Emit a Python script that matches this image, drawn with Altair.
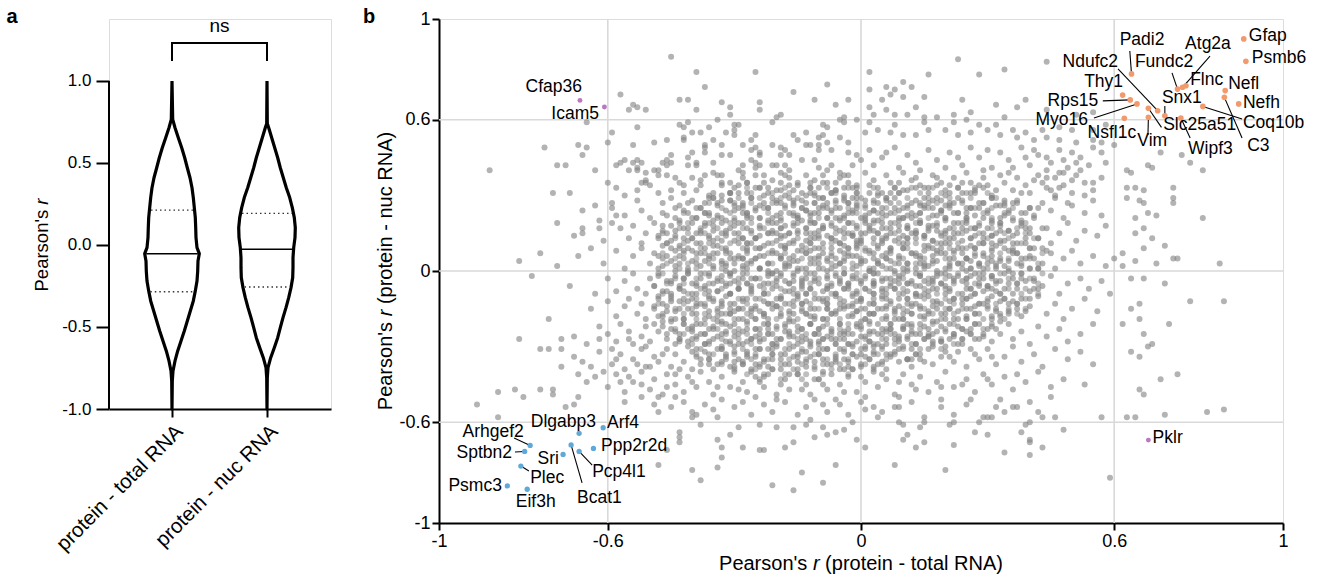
import altair as alt
import pandas as pd

FONT = "Liberation Sans"
MINUS_G = "replace(format(datum.value, '~g'), '\u2212', '-')"
MINUS_1F = "replace(format(datum.value, '.1f'), '\u2212', '-')"

# ======================= panel a : violin outlines =======================
cat_labels = ["protein - total RNA", "protein - nuc RNA"]
cat_pos = [63, 158]

tot_r = [1.0, 0.766, 0.715, 0.654, 0.593, 0.532, 0.471, 0.410, 0.349, 0.289,
         0.228, 0.167, 0.106, 0.045, -0.016, -0.053, -0.098, -0.159, -0.220, -0.280,
         -0.341, -0.402, -0.463, -0.524, -0.585, -0.646, -0.707, -0.768, -0.829, -1.0]
tot_hw = [0, 0.7, 3.0, 6.3, 9.7, 12.7, 15.3, 18.0, 20.0, 21.3,
          22.3, 23.3, 23.7, 24.0, 25.0, 27.3, 26.0, 25.7, 25.0, 23.3,
          21.3, 18.3, 15.3, 12.3, 9.0, 5.7, 3.0, 1.0, 0.3, 0]
nuc_r = [1.0, 0.74, 0.715, 0.654, 0.593, 0.532, 0.471, 0.410, 0.349, 0.289,
         0.228, 0.167, 0.106, 0.045, -0.016, -0.077, -0.138, -0.199, -0.260, -0.321,
         -0.382, -0.443, -0.504, -0.565, -0.626, -0.687, -0.748, -0.809, -1.0]
nuc_hw = [0, 0.3, 1.7, 4.7, 7.7, 10.7, 13.3, 16.3, 19.3, 22.7,
          25.3, 27.3, 28.3, 28.0, 26.7, 26.0, 26.0, 25.7, 24.0, 21.7,
          19.0, 16.0, 13.3, 10.7, 7.3, 3.7, 1.0, 0.3, 0]

# quartiles: upper quartile, median, lower quartile
tot_q = [0.213, -0.053, -0.285]
tot_q_hw = [22.5, 27.3, 23.2]
nuc_q = [0.193, -0.026, -0.256]
nuc_q_hw = [26.5, 26.5, 24.0]

# ======================= panel b : scatter =======================
gray_above_06 = ("-45,85 23,84 44,83 -39,79 -25,79 -37,73 -8,74 -16,71 -57,70 2,79 16,78 28,78 34,80 10,75 "
    "12,73 6,73 2,72 8,72 -43,68 -41,68 -11,68 -3,68 -6,66 -24,67 -33,67 -31,65 -39,64 -24,64 -54,66 "
    "-55,64 -53,65 -51,64 -31,62 -19,62 -20,61 -5,60 -4,61 -1,60 -34,60 5,68 7,70 10,69 15,69 24,68 39,68 "
    "32,66 6,64 13,65 2,65 3,62 8,62 11,62 15,61 18,61 22,62 26,63 34,61 37,65 44,64 51,62 55,63")
gray_05 = ("-65,59 -43,58 -42,57 -41,59 -30,58 -29,58 -30,56 -21,59 -9,58 -8,57 -4,59 -53,57 -36,57 -38,55 "
    "-59,55 -40,55 -42,53 -42,52 -32,55 -30,54 -25,54 -26,52 -16,54 -13,55 -10,53 -9,54 -8,51 -5,53 -3,51 "
    "-60,51 -54,50 -49,51 -46,52 1,55 4,56 7,55 10,54 13,54 16,56 20,56 23,54 26,55 30,56 33,54 37,53 41,52 "
    "44,53 47,52 51,51 55,52 57,51 60,50 2,59 8,58 15,59 22,59 25,60 28,58 32,58 36,56 39,55 43,56 47,57 "
    "50,56 55,56 58,58")
gray_04 = ("-37,49 -37,50 -37,47 -35,52 -33,50 -28,50 -26,48 -25,49 -24,47 -24,46 -21,50 -19,49 -18,48 -19,46 "
    "-17,46 -15,52 -13,50 -12,50 -10,50 -10,48 -7,48 -3,47 -1,46 -45,46 -46,44 -41,45 -40,47 -39,43 -33,46 "
    "-31,46 -88,40 -72,42 -70,42 -63,40 -58,42 -57,43 -56,44 -54,43 -53,44 -52,43 -53,41 -55,40 -53,40 -51,39 "
    "-49,40 -48,40 -48,38 -47,43 -46,42 -45,43 -41,42 -39,42 -35,43 -35,39 -34,38 -33,38 -28,42 -28,39 -29,40 "
    "-26,44 -25,43 -24,42 -25,41 -21,42 -20,42 -18,42 -19,39 -17,40 -18,38 -14,44 -11,44 -10,41 -8,40 -7,42 "
    "-5,39 -4,38 -2,42 0,44 -75,49 -67,50 -65,49 -66,46 "
    "2,48 5,45 8,49 11,46 13,43 16,48 18,44 21,47 24,42 26,49 28,45 31,41 33,47 35,44 38,49 40,42 42,46 45,43 "
    "47,48 49,41 52,45 54,42 57,47 58,43 3,42 9,41 14,40 20,41 29,40 36,41 44,40 6,47 23,45 30,48 39,45 48,44 "
    "55,49 50,47 63,40 64,39 68,42 69,41 71,47 76,46 78,43 81,40")
gray_03 = ("-73,31 -69,31 -56,30 -53,32 -51,36 -51,35 -50,34 -52,35 -45,32 -42,31 -42,34 -40,37 -38,34 -38,36 "
    "-39,32 -36,30 -35,31 -33,30 -31,31 -30,33 -29,34 -27,35 -27,31 -24,33 -23,35 -22,31 -20,32 -19,35 -17,34 "
    "-16,32 -15,35 -14,31 -12,33 -12,35 -10,33 -8,35 -6,35 -5,37 -3,35 -1,34 -1,31 -7,31 -6,32 -4,30 -2,33 "
    "-13,30 -18,30 -25,38 -23,38 -21,36 -17,37 -13,38 -9,38 -3,38 -31,35 -33,35 -37,38 -44,37 -46,38 -60,35 "
    "-58,33 -48,31 -43,35 -28,37 -11,36 "
    "1,39 3,36 4,33 6,38 7,31 9,35 10,39 11,32 13,37 14,34 16,31 17,38 19,35 20,32 22,37 23,33 25,39 26,35 "
    "27,31 29,37 30,34 31,30 33,38 34,35 36,32 37,37 39,34 40,31 42,38 43,35 45,32 46,37 48,34 50,31 51,38 "
    "53,35 55,32 57,37 2,31 8,33 12,36 15,33 18,37 21,34 24,31 28,34 32,32 35,39 38,31 41,36 44,33 47,39")
gray_right = ("63,33 65,33 67,32 74,33 63,29 66,28 67,27 74,29 74,27 68,23 65,21 70,22 81,21 65,15 67,17 69,13 "
    "67,9 72,10 74,5 75,5 85,3 65,4 70,3 62,7 62,2")
gray_02 = ("-66,24 -63,26 -62,20 -59,27 -59,25 -58,22 -56,22 -53,28 -52,24 -50,21 -47,27 -47,23 -45,29 -44,21 "
    "-43,26 -41,23 -40,28 -39,21 -38,25 -36,29 -36,22 -34,26 -33,21 -32,24 -31,28 -30,20 -29,25 -28,27 -27,22 "
    "-26,29 -25,24 -24,21 -23,27 -22,25 -21,29 -20,22 -19,20 -18,26 -17,23 -16,28 -15,21 -14,25 -13,27 -12,20 "
    "-11,23 -10,29 -9,26 -8,21 -7,24 -6,28 -5,20 -5,25 -4,22 -3,27 -2,24 -1,29 0,21 1,26 2,23 3,28 4,20 5,25 "
    "6,22 7,27 8,29 9,24 10,21 11,26 12,23 13,28 14,20 15,25 16,27 17,22 18,29 19,24 20,21 21,26 22,23 24,28 "
    "25,20 26,25 27,22 29,27 30,24 31,29 33,21 34,26 35,23 37,28 38,20 40,25 41,22 43,27 45,24 46,29 48,21 "
    "50,26 53,23 55,28 57,22 -44,25 -41,27 -37,23 -35,20 -33,28 -30,26 -27,21 -24,26 -22,20 -19,27 -16,22 "
    "-13,24 -10,25 -8,27 -6,21 -3,23 -1,25 1,20 3,24 6,28 9,20 11,22 14,26 17,25 19,28 22,27 25,23 28,25 31,20 "
    "33,26 36,27 39,23 42,25 -28,23 -20,28 -12,22 -4,28 5,23 13,22 20,26")
gray_01 = ("-72,19 -68,14 -66,17 -66,15 -62,17 -61,12 -59,19 -57,17 -55,13 -54,18 -52,11 -51,15 -49,19 -48,13 "
    "-47,16 -46,11 -45,18 -44,14 -43,10 -42,17 -41,12 -40,19 -39,15 -38,11 -37,18 -36,13 -35,16 -34,10 -33,19 "
    "-32,14 -31,17 -30,12 -29,15 -28,19 -27,11 -26,16 -25,13 -24,18 -23,10 -22,15 -21,19 -20,12 -19,17 -18,14 "
    "-17,11 -16,18 -15,15 -14,10 -13,17 -12,13 -11,19 -10,16 -9,11 -8,14 -7,18 -6,12 -5,16 -4,10 -3,19 -2,14 "
    "-1,17 0,11 1,15 2,18 3,13 4,10 5,17 6,14 7,19 8,12 9,16 10,11 11,18 12,15 13,13 14,19 15,10 16,16 17,12 "
    "18,18 19,14 20,11 21,17 22,15 23,19 24,12 25,16 26,10 27,14 28,18 29,13 30,17 31,11 32,15 33,19 34,12 "
    "35,16 36,14 38,18 39,11 40,15 42,13 44,17 45,11 47,15 49,19 51,12 53,16 56,14 58,18 -46,15 -43,19 -40,13 "
    "-38,16 -35,12 -33,15 -30,18 -28,13 -26,11 -24,14 -21,16 -19,10 -17,15 -15,19 -13,12 -11,15 -9,18 -7,13 "
    "-5,11 -3,15 -1,12 1,19 3,16 5,12 7,15 9,18 11,13 13,16 15,14 17,18 19,11 21,13 23,15 25,19 27,17 29,11 "
    "31,14 33,16 36,11 39,17 -20,15 -10,14 0,15 10,14 20,16")
gray_00 = ("-81,4 -76,7 -72,2 -67,6 -64,9 -61,3 -58,8 -56,1 -54,6 -52,9 -50,3 -49,7 -48,1 -47,5 -45,9 -44,2 "
    "-43,6 -42,8 -41,0 -40,4 -39,7 -38,2 -37,9 -36,5 -35,1 -34,7 -33,3 -32,9 -31,5 -30,0 -29,6 -28,2 -27,8 "
    "-26,4 -25,9 -24,1 -23,6 -22,3 -21,8 -20,0 -19,5 -18,9 -17,2 -16,6 -15,4 -14,8 -13,1 -12,5 -11,9 -10,3 "
    "-9,7 -8,0 -7,6 -6,2 -5,8 -4,4 -3,9 -2,1 -1,6 0,3 1,8 2,0 3,5 4,9 5,2 6,7 7,4 8,0 9,6 10,9 11,3 12,7 13,1 "
    "14,5 15,8 16,2 17,6 18,4 19,9 20,1 21,5 22,8 23,3 24,7 25,0 26,4 27,9 28,2 29,6 30,3 31,8 32,1 33,5 34,9 "
    "35,4 37,7 38,2 40,6 41,9 43,3 45,7 46,1 48,5 50,8 52,3 55,6 58,2 60,5 -46,6 -43,3 -40,8 -37,4 -35,7 -32,2 "
    "-30,5 -27,3 -24,6 -22,0 -20,7 -17,5 -15,1 -12,8 -10,6 -8,4 -5,3 -3,6 -1,9 1,4 3,1 5,6 7,8 9,3 11,0 13,6 "
    "15,3 17,9 19,7 21,2 23,9 25,5 27,6 29,1 31,4 34,2 36,8 39,5 42,1 44,8 -28,5 -18,3 -6,5 4,4 14,3 24,3")
gray_m00 = ("-78,-2 -69,-6 -63,-9 -60,-3 -58,-8 -56,-4 -54,-1 -53,-7 -51,-9 -50,-3 -49,-6 -48,-1 -47,-8 -46,-4 "
    "-45,-9 -44,-2 -43,-6 -42,-8 -41,-1 -40,-5 -39,-9 -38,-3 -37,-7 -36,-1 -35,-5 -34,-8 -33,-2 -32,-6 -31,-9 "
    "-30,-4 -29,-7 -28,-1 -27,-5 -26,-8 -25,-3 -24,-6 -23,-9 -22,-2 -21,-7 -20,-4 -19,-1 -18,-8 -17,-5 -16,-2 "
    "-15,-9 -14,-6 -13,-3 -12,-7 -11,-1 -10,-5 -9,-8 -8,-2 -7,-6 -6,-9 -5,-4 -4,-1 -3,-7 -2,-3 -1,-9 0,-5 "
    "1,-2 2,-8 3,-6 4,-1 5,-4 6,-9 7,-3 8,-7 9,-5 10,-1 11,-8 12,-4 13,-6 14,-2 15,-9 16,-5 17,-3 18,-7 19,-1 "
    "20,-6 21,-8 22,-4 23,-2 24,-9 25,-5 26,-7 27,-1 28,-3 29,-8 30,-6 31,-2 32,-4 33,-9 34,-7 36,-3 37,-5 "
    "38,-1 40,-8 41,-4 43,-6 45,-2 47,-9 49,-5 52,-3 54,-7 57,-4 59,-9 64,-3 67,-3 72,-5 -45,-5 -42,-3 -39,-6 "
    "-36,-8 -34,-4 -31,-2 -29,-5 -26,-3 -23,-5 -21,-1 -18,-4 -16,-7 -13,-9 -11,-4 -8,-6 -6,-2 -3,-5 -1,-3 1,-7 "
    "3,-4 5,-8 7,-6 9,-2 11,-5 13,-9 15,-4 17,-7 19,-5 21,-2 24,-4 26,-2 29,-3 31,-7 34,-1 39,-4 42,-7 -26,-6 "
    "-14,-4 -4,-7 8,-4 18,-2 28,-6")
gray_m01 = ("-74,-19 -64,-15 -60,-12 -58,-18 -56,-14 -55,-11 -53,-17 -52,-13 -51,-19 -49,-15 -48,-11 -47,-18 "
    "-46,-14 -45,-10 -44,-16 -43,-12 -42,-19 -41,-15 -40,-11 -39,-17 -38,-13 -37,-19 -36,-16 -35,-12 -34,-18 "
    "-33,-14 -32,-10 -31,-17 -30,-13 -29,-19 -28,-15 -27,-11 -26,-18 -25,-14 -24,-16 -23,-12 -22,-19 -21,-15 "
    "-20,-11 -19,-17 -18,-13 -17,-19 -16,-14 -15,-10 -14,-16 -13,-12 -12,-18 -11,-15 -10,-11 -9,-19 -8,-13 "
    "-7,-17 -6,-10 -5,-15 -4,-12 -3,-18 -2,-14 -1,-16 0,-11 1,-19 2,-13 3,-17 4,-15 5,-10 6,-18 7,-12 8,-16 "
    "9,-14 10,-19 11,-11 12,-17 13,-13 14,-15 15,-18 16,-10 17,-14 18,-12 19,-17 20,-19 21,-15 22,-11 23,-16 "
    "24,-13 25,-18 26,-10 27,-14 28,-17 30,-12 31,-19 32,-15 34,-11 35,-16 37,-13 38,-18 40,-14 42,-10 44,-17 "
    "46,-13 48,-19 50,-15 53,-11 56,-16 64,-15 66,-19 66,-13 78,-12 86,-12 -47,-13 -44,-19 -41,-12 -39,-14 "
    "-36,-11 -33,-17 -31,-15 -28,-12 -26,-16 -23,-18 -21,-13 -19,-11 -16,-17 -14,-13 -11,-18 -9,-12 -6,-16 "
    "-4,-14 -1,-12 1,-15 3,-11 6,-14 8,-19 11,-16 13,-10 16,-17 18,-15 21,-12 23,-19 26,-15 29,-13 33,-18 "
    "36,-12 39,-16 -30,-16 -20,-14 -8,-15 2,-17 12,-14 24,-11")
gray_m02 = ("-81,-27 -71,-27 -68,-26 -65,-29 -62,-22 -60,-25 -58,-28 -57,-21 -55,-24 -54,-29 -52,-26 -51,-22 "
    "-50,-28 -48,-24 -47,-20 -46,-27 -45,-23 -44,-29 -43,-25 -42,-21 -41,-28 -40,-24 -39,-26 -38,-21 -37,-29 "
    "-36,-23 -35,-27 -34,-20 -33,-25 -32,-28 -31,-22 -30,-26 -29,-29 -28,-24 -27,-20 -26,-27 -25,-23 -24,-28 "
    "-23,-21 -22,-25 -21,-29 -20,-22 -19,-27 -18,-24 -17,-20 -16,-26 -15,-29 -14,-23 -13,-27 -12,-21 -11,-25 "
    "-10,-28 -9,-22 -8,-26 -7,-24 -6,-29 -5,-21 -4,-27 -3,-23 -2,-25 -1,-28 0,-22 1,-26 2,-20 3,-24 4,-29 "
    "5,-23 6,-27 7,-21 8,-25 9,-28 10,-22 11,-26 12,-24 13,-29 14,-21 15,-27 16,-23 17,-25 18,-20 19,-28 "
    "20,-24 22,-26 23,-22 24,-29 26,-25 27,-21 28,-27 30,-23 31,-28 33,-25 35,-21 36,-27 38,-24 40,-29 42,-22 "
    "44,-26 47,-23 49,-28 52,-25 55,-21 62,-21 73,-21 67,-25 69,-29 -49,-21 -46,-25 -43,-27 -40,-22 -37,-25 "
    "-35,-23 -32,-21 -30,-24 -27,-28 -25,-26 -22,-23 -20,-27 -17,-24 -15,-22 -12,-28 -10,-25 -7,-27 -5,-25 "
    "-3,-29 -1,-21 2,-28 4,-25 7,-23 9,-26 12,-22 14,-25 17,-28 19,-22 21,-27 25,-24 29,-26 32,-23 -36,-28 "
    "-24,-25 -14,-26 -4,-24 6,-24 16,-26")
gray_m03 = ("-76,-31 -74,-31 -71,-31 -71,-38 -68,-34 -66,-36 -64,-38 -62,-32 -59,-37 -57,-33 -56,-39 -54,-35 "
    "-52,-31 -51,-38 -49,-34 -48,-36 -46,-31 -45,-38 -44,-33 -42,-36 -41,-30 -40,-39 -39,-34 -38,-37 -37,-32 "
    "-36,-35 -35,-39 -34,-31 -33,-36 -32,-33 -31,-38 -30,-30 -29,-35 -28,-37 -27,-32 -26,-39 -25,-34 -24,-31 "
    "-23,-36 -22,-38 -21,-33 -20,-30 -19,-35 -18,-37 -17,-31 -16,-34 -15,-39 -14,-32 -13,-36 -12,-30 -11,-38 "
    "-10,-33 -9,-35 -8,-31 -7,-37 -6,-34 -5,-39 -4,-32 -3,-36 -2,-30 -1,-34 0,-38 1,-31 2,-35 3,-33 4,-37 "
    "5,-30 6,-39 7,-34 8,-32 9,-36 10,-30 12,-38 13,-33 14,-35 16,-31 17,-37 19,-34 20,-30 22,-36 23,-32 "
    "25,-38 27,-33 28,-35 30,-31 32,-37 34,-34 36,-30 38,-36 41,-33 43,-38 46,-31 49,-35 52,-32 55,-37 64,-32 "
    "66,-34 68,-30 -47,-33 -43,-39 -40,-32 -36,-37 -33,-31 -30,-36 -27,-34 -24,-38 -21,-31 -18,-33 -15,-36 "
    "-12,-34 -9,-31 -6,-36 -3,-38 0,-33 3,-30 6,-33 11,-35 15,-36 21,-34 26,-31 31,-34")
gray_m04 = ("-86,-48 -82,-47 -76,-47 -73,-47 -73,-49 -67,-41 -65,-44 -63,-42 -60,-46 -58,-41 -56,-48 -54,-44 "
    "-52,-40 -50,-47 -49,-43 -47,-49 -46,-41 -44,-45 -42,-48 -41,-42 -39,-46 -38,-40 -36,-44 -35,-49 -33,-42 "
    "-31,-46 -30,-40 -28,-44 -27,-48 -25,-42 -23,-46 -22,-41 -20,-49 -18,-43 -17,-47 -15,-41 -13,-45 -12,-49 "
    "-10,-43 -8,-47 -7,-41 -5,-45 -3,-42 -1,-48 1,-44 3,-40 4,-46 6,-43 8,-49 10,-41 12,-45 14,-42 16,-48 "
    "18,-44 20,-40 22,-46 25,-43 27,-48 29,-41 31,-45 34,-42 36,-47 39,-44 42,-40 45,-46 48,-43 53,-45 71,-43 "
    "75,-41 66,-47 67,-49 -44,-41 -40,-44 -34,-46 -29,-47 -24,-44 -19,-45 -14,-47 -9,-45 -4,-48 0,-42 5,-41 "
    "9,-44 13,-47 19,-46 24,-45 30,-43 37,-41")
gray_m05 = ("-91,-53 -86,-58 -80,-50 -70,-54 -68,-53 -67,-50 -56,-52 -52,-50 -49,-53 -48,-56 -45,-54 -42,-52 "
    "-40,-56 -40,-58 -39,-57 -37,-53 -34,-58 -33,-51 -30,-54 -28,-52 -26,-57 -23,-53 -21,-56 -18,-52 -15,-57 "
    "-13,-54 -11,-51 -8,-56 -5,-53 -3,-57 0,-52 1,-50 3,-54 1,-55 4,-58 5,-56 8,-54 9,-54 15,-58 15,-60 19,-54 "
    "25,-53 32,-54 36,-54 34,-56 37,-54 42,-56 43,-58 46,-58 28,-60 29,-58 30,-58 31,-58 9,-50 19,-51 33,-51 "
    "45,-50 57,-58 63,-58 65,-58 72,-57 82,-56 86,-55 -20,-51 -35,-55 -44,-50 -12,-59 -6,-51 12,-52 22,-57 "
    "40,-52 -25,-50 -9,-53 26,-51")
gray_low = ("-43,-64 -43,-66 -43,-68 -38,-61 -29,-62 -24,-61 -20,-62 -16,-62 -13,-61 -9,-62 -6,-64 -2,-60 "
    "-31,-65 -11,-66 -8,-65 -1,-67 -4,-63 -34,-67 -16,-68 48,-63 38,-64 40,-67 40,-68 43,-70 30,-65 27,-64 "
    "22,-69 15,-68 14,-62 10,-67 11,-65 9,-60 10,-61 21,-61 22,-60 39,-61 40,-60 -46,-71 -28,-70 -33,-70 "
    "-33,-74 -34,-78 -38,-83 -40,-79 -48,-77 -21,-85 -16,-87 -9,-84 -14,-80 -6,-77 -18,-70 -24,-71 -23,-71 "
    "1,-70 13,-70 8,-77 20,-79 40,-73 34,-72 59,-82")
gray_ring = ("-58,-35 -55,-42 -52,-45 -50,-38 -57,-44 -61,-40 -48,-50 -46,-46 -53,-37 -59,-31 -62,-27 -55,-27 "
    "-51,-30 44,37 47,33 50,36 53,30 49,27 46,30 52,40 44,45 41,48 48,39 55,35 51,43")
# dense core (overlapping points in the centre of the cloud)
gray_core_top = ("-33,34 -27,35 -22,33 -15,34 -9,35 -4,33 2,34 7,35 13,33 18,34 24,35 29,33 "
    "-31,31 -25,33 -19,32 -12,31 -6,32 -1,33 5,31 10,32 16,33 21,31 27,32 "
    "-35,29 -29,31 -23,30 -17,29 -11,30 -7,31 -2,29 4,30 9,31 15,29 20,30 26,31 31,29 "
    "-37,27 -31,28 -26,29 -20,27 -14,28 -9,29 -3,27 1,28 6,29 12,27 17,28 23,29 28,27 34,28 "
    "-39,25 -34,27 -28,26 -22,25 -16,26 -11,27 -6,25 -1,26 4,27 10,25 15,26 21,27 26,25 32,26 37,27 "
    "-42,24 -36,23 -30,24 -25,25 -19,23 -13,24 -8,25 -2,23 3,24 8,25 14,23 19,24 25,25 30,23 35,24 40,25 "
    "-46,22 -40,21 -34,22 -27,23 -21,21 -15,22 -10,23 -4,21 1,22 7,23 12,21 18,22 23,23 29,21 34,22 38,23 "
    "-43,20 -37,19 -32,20 -26,21 -20,19 -14,20 -8,21 -3,19 3,20 9,21 14,19 20,20 25,21 31,19 36,20 41,21 "
    "-47,18 -41,17 -35,18 -29,19 -24,17 -18,18 -12,19 -6,17 -1,18 5,19 11,17 16,18 22,19 27,17 33,18 38,19 43,17 "
    "-44,16 -38,15 -32,16 -27,17 -21,15 -15,16 -9,17 -4,15 2,16 7,17 13,15 18,16 24,17 29,15 35,16 40,17 "
    "-48,14 -42,13 -36,14 -30,15 -25,13 -19,14 -13,15 -7,13 -2,14 4,15 9,13 15,14 20,15 26,13 31,14 37,15 42,13 "
    "-45,12 -39,11 -33,12 -28,13 -22,11 -16,12 -11,13 -5,11 0,12 6,13 11,11 17,12 22,13 28,11 33,12 39,13 "
    "-47,10 -41,9 -35,10 -29,11 -24,9 -18,10 -12,11 -7,9 -1,10 5,11 10,9 16,10 21,11 27,9 32,10 37,11 43,9 "
    "-44,8 -38,7 -32,8 -27,9 -21,7 -15,8 -10,9 -4,7 2,8 7,9 13,7 18,8 24,9 29,7 35,8 40,9 "
    "-48,6 -42,5 -36,6 -31,7 -25,5 -19,6 -13,7 -8,5 -2,6 3,7 9,5 14,6 20,7 25,5 31,6 36,7 41,5 "
    "-45,4 -39,3 -33,4 -28,5 -22,3 -16,4 -11,5 -5,3 0,4 6,5 11,3 17,4 22,5 28,3 33,4 38,5 "
    "-47,2 -41,1 -35,2 -30,3 -24,1 -18,2 -12,3 -7,1 -1,2 4,3 10,1 15,2 21,3 26,1 32,2 37,3 42,1")
gray_core_bottom = ("-44,0 -38,-1 -32,0 -27,1 -21,-1 -15,0 -10,1 -4,-1 2,0 7,1 13,-1 18,0 24,1 29,-1 35,0 40,1 "
    "-48,-2 -42,-3 -36,-2 -31,-1 -25,-3 -19,-2 -13,-1 -8,-3 -2,-2 3,-1 9,-3 14,-2 20,-1 25,-3 31,-2 36,-1 41,-3 "
    "-45,-4 -39,-5 -33,-4 -28,-3 -22,-5 -16,-4 -11,-3 -5,-5 0,-4 6,-3 11,-5 17,-4 22,-3 28,-5 33,-4 38,-3 "
    "-49,-6 -43,-7 -37,-6 -31,-5 -26,-7 -20,-6 -14,-5 -8,-7 -3,-6 3,-5 8,-7 14,-6 19,-5 25,-7 30,-6 35,-5 41,-7 "
    "-46,-8 -40,-9 -34,-8 -29,-7 -23,-9 -17,-8 -12,-7 -6,-9 -1,-8 5,-7 10,-9 16,-8 21,-7 27,-9 32,-8 37,-7 "
    "-48,-10 -42,-11 -36,-10 -31,-9 -25,-11 -19,-10 -13,-9 -8,-11 -2,-10 3,-9 9,-11 14,-10 20,-9 25,-11 31,-10 36,-9 40,-11 "
    "-45,-12 -39,-13 -33,-12 -28,-11 -22,-13 -16,-12 -11,-11 -5,-13 0,-12 6,-11 11,-13 17,-12 22,-11 28,-13 33,-12 38,-11 "
    "-49,-14 -43,-15 -37,-14 -31,-13 -26,-15 -20,-14 -14,-13 -8,-15 -3,-14 3,-13 8,-15 14,-14 19,-13 25,-15 30,-14 35,-13 "
    "-46,-16 -40,-17 -34,-16 -29,-15 -23,-17 -17,-16 -12,-15 -6,-17 -1,-16 5,-15 10,-17 16,-16 21,-15 27,-17 32,-16 37,-15 "
    "-48,-18 -42,-19 -36,-18 -31,-17 -25,-19 -19,-18 -13,-17 -8,-19 -2,-18 3,-17 9,-19 14,-18 20,-17 25,-19 31,-18 35,-17 "
    "-45,-20 -39,-21 -33,-20 -28,-19 -22,-21 -16,-20 -11,-19 -5,-21 0,-20 6,-19 11,-21 17,-20 22,-19 28,-21 33,-20 "
    "-47,-22 -41,-23 -35,-22 -30,-21 -24,-23 -18,-22 -12,-21 -7,-23 -1,-22 4,-21 10,-23 15,-22 21,-21 26,-23 31,-22 "
    "-44,-24 -38,-25 -32,-24 -27,-23 -21,-25 -15,-24 -10,-23 -4,-25 2,-24 7,-23 13,-25 18,-24 24,-23 29,-25 "
    "-40,-27 -34,-26 -29,-25 -23,-27 -17,-26 -11,-25 -6,-27 0,-26 5,-25 11,-27 16,-26 22,-25 27,-27 "
    "-43,-28 -37,-29 -31,-28 -26,-27 -20,-29 -14,-28 -9,-27 -3,-29 2,-28 8,-27 13,-29 19,-28 24,-27 "
    "-39,-31 -33,-30 -28,-29 -22,-31 -16,-30 -10,-29 -5,-31 1,-30 6,-29 12,-31 17,-30 23,-29 "
    "-36,-33 -30,-32 -25,-31 -19,-33 -13,-32 -8,-31 -2,-33 3,-32 9,-31 14,-33 20,-32 "
    "-38,-35 -32,-34 -27,-33 -21,-35 -15,-34 -10,-33 -4,-35 1,-34 7,-33 12,-35 "
    "-34,-37 -28,-36 -23,-35 -17,-37 -11,-36 -6,-35 0,-37 5,-36 11,-35 "
    "-30,-38 -25,-37 -19,-39 -13,-38 -8,-37 -2,-39 3,-38 "
    "-26,-40 -21,-39 -15,-41 -9,-40 -4,-39 "
    "-23,-42 -17,-41 -11,-43")
# further overlapping points filling the densest part of the cloud (rows at odd hundredths of r)
core_fill_rows = {
    33: "-27 -24 -18 -12 -8 -3 3 8 12 17 23 27",
    31: "-31 -26 -21 -17 -11 -6 -1 4 9 14 19 25 30",
    29: "-35 -29 -24 -19 -15 -9 -4 0 6 11 16 21 26 32",
    27: "-36 -30 -26 -21 -16 -11 -6 -1 3 9 14 18 24 29 34",
    25: "-38 -33 -28 -23 -18 -14 -9 -3 1 6 11 16 21 27 31 36",
    23: "-42 -37 -31 -27 -22 -16 -12 -7 -1 4 8 14 19 23 29 34",
    21: "-39 -34 -30 -24 -19 -15 -10 -5 1 5 10 16 20 25 31 36",
    19: "-41 -36 -31 -26 -22 -16 -11 -7 -2 3 8 13 18 24 28 33 39",
    17: "-43 -38 -34 -28 -23 -19 -13 -9 -4 2 6 11 16 22 26 31 37",
    15: "-47 -41 -37 -32 -26 -22 -17 -12 -6 -2 4 8 13 19 24 28 34 39",
    13: "-44 -40 -34 -29 -25 -19 -15 -10 -4 0 5 11 15 20 26 30 35 41",
    11: "-46 -42 -36 -31 -27 -21 -16 -12 -7 -1 3 9 13 18 23 29 33 38",
    9: "-43 -38 -33 -28 -24 -18 -13 -9 -3 1 7 11 16 21 25 31 36 40",
    7: "-47 -42 -37 -32 -27 -22 -18 -13 -7 -3 2 7 12 18 22 27 33 37 43",
    5: "-44 -39 -35 -29 -25 -19 -14 -10 -4 0 6 10 15 20 25 30 35 40",
    3: "-46 -41 -36 -32 -26 -21 -17 -11 -7 -2 4 8 13 17 23 28 32 38 42",
    1: "-43 -39 -33 -28 -24 -18 -14 -9 -4 2 6 11 15 21 26 30 35 40",
    -1: "-47 -41 -37 -31 -27 -22 -16 -12 -6 -1 3 8 14 18 23 28 33 38 43",
    -3: "-44 -39 -34 -29 -24 -20 -14 -10 -5 1 5 10 16 20 25 31 35 40",
    -5: "-46 -42 -36 -32 -27 -21 -17 -12 -7 -3 3 7 12 17 22 27 32 37 42",
    -7: "-43 -38 -33 -29 -23 -19 -14 -8 -4 1 6 10 15 20 26 30 35 39",
    -9: "-47 -41 -37 -31 -26 -22 -16 -11 -7 -2 3 9 13 18 23 27 33 38 42",
    -11: "-45 -39 -35 -29 -24 -19 -15 -9 -5 0 5 11 15 20 25 30 34 39",
    -13: "-48 -42 -37 -33 -27 -22 -17 -12 -8 -2 3 7 12 18 22 28 32 37",
    -15: "-44 -40 -34 -29 -25 -19 -14 -10 -4 0 6 10 15 20 24 30 35 39",
    -17: "-47 -42 -37 -32 -27 -23 -17 -13 -7 -2 2 8 12 17 22 27 33 37",
    -19: "-45 -39 -35 -30 -25 -20 -15 -9 -5 1 5 10 15 19 25 29 34",
    -21: "-42 -37 -33 -27 -22 -18 -12 -8 -3 2 7 12 17 22 27 31",
    -23: "-44 -40 -34 -29 -25 -20 -14 -10 -5 0 6 10 14 20 24 29",
    -25: "-42 -37 -32 -27 -22 -17 -13 -7 -3 2 7 12 16 22 26",
    -27: "-43 -39 -33 -29 -24 -19 -15 -9 -5 1 5 9 15 19 24",
    -29: "-40 -36 -31 -26 -21 -17 -12 -6 -2 3 8 12 17 22",
    -31: "-38 -33 -28 -24 -18 -14 -10 -4 0 5 10 14 19",
    -33: "-39 -35 -30 -25 -21 -15 -11 -6 -2 4 8 13",
    -35: "-36 -32 -26 -22 -17 -13 -8 -3 2 6 11",
    -37: "-33 -28 -24 -19 -14 -9 -5 1 5",
    -39: "-30 -25 -21 -16 -11 -7 -2 3",
    -41: "-27 -23 -18 -13 -9 -3",
    -43: "-24 -19 -14 -10",
}

up_names = ["Gfap", "Psmb6", "Padi2", "Thy1", "Rps15", "Myo16", "Slc25a51", "Ndufc2", "Snx1", "Nsfl1c",
            "Vim", "Wipf3", "Fundc2", "Atg2a", "Flnc", "Nefl", "C3", "Nefh", "Coq10b"]
up_x = [0.907, 0.912, 0.641, 0.620, 0.638, 0.654, 0.681, 0.703, 0.720, 0.624,
        0.681, 0.758, 0.750, 0.762, 0.770, 0.863, 0.861, 0.895, 0.810]
up_y = [0.921, 0.832, 0.782, 0.698, 0.679, 0.663, 0.646, 0.636, 0.616, 0.606,
        0.610, 0.607, 0.722, 0.729, 0.735, 0.716, 0.689, 0.663, 0.653]

down_names = ["Arf4", "Dlgabp3", "Arhgef2", "Sptbn2", "Sri", "Bcat1", "Pcp4l1", "Ppp2r2d", "Plec", "Psmc3", "Eif3h"]
down_x = [-0.611, -0.668, -0.784, -0.797, -0.706, -0.687, -0.668, -0.634, -0.806, -0.838, -0.791]
down_y = [-0.622, -0.644, -0.692, -0.716, -0.728, -0.690, -0.716, -0.704, -0.774, -0.853, -0.866]

other_names = ["Cfap36", "Icam5", "Pklr"]
other_x = [-0.666, -0.608, 0.681]
other_y = [0.677, 0.651, -0.671]

# label anchors (data units) and alignment
lab_names = ["Gfap", "Psmb6", "Padi2", "Ndufc2", "Fundc2", "Atg2a", "Flnc", "Thy1", "Nefl", "Snx1", "Rps15",
             "Nefh", "Myo16", "Nsfl1c", "Vim", "Slc25a51", "Wipf3", "Coq10b", "C3",
             "Arf4", "Dlgabp3", "Arhgef2", "Sptbn2", "Sri", "Plec", "Psmc3", "Eif3h", "Bcat1", "Pcp4l1", "Ppp2r2d",
             "Cfap36", "Icam5", "Pklr"]
lab_x = [0.919, 0.926, 0.666, 0.609, 0.649, 0.768, 0.780, 0.621, 0.870, 0.713, 0.562,
         0.905, 0.538, 0.652, 0.690, 0.716, 0.775, 0.905, 0.915,
         -0.602, -0.628, -0.799, -0.827, -0.716, -0.784, -0.851, -0.818, -0.673, -0.637, -0.616,
         -0.661, -0.621, 0.691]
lab_y = [0.933, 0.844, 0.917, 0.829, 0.829, 0.901, 0.758, 0.750, 0.742, 0.687, 0.675,
         0.667, 0.599, 0.548, 0.515, 0.578, 0.484, 0.587, 0.496,
         -0.603, -0.599, -0.639, -0.722, -0.746, -0.821, -0.853, -0.917, -0.901, -0.798, -0.694,
         0.730, 0.623, -0.661]
lab_align = ["left", "left", "center", "right", "left", "left", "left", "right", "left", "left", "right",
             "left", "right", "right", "center", "left", "left", "left", "left",
             "left", "right", "right", "right", "right", "left", "right", "left", "left", "left", "left",
             "right", "right", "left"]

# leader lines: gene -> end point near its label
lead_names = ["Padi2", "Ndufc2", "Fundc2", "Atg2a", "Snx1", "Rps15", "Myo16", "Vim", "Slc25a51", "Wipf3",
              "Coq10b", "C3", "Arhgef2", "Sptbn2", "Plec", "Bcat1", "Pcp4l1"]
lead_x2 = [0.637, 0.609, 0.737, 0.827, 0.720, 0.573, 0.552, 0.680, 0.712, 0.780,
           0.903, 0.903, -0.822, -0.820, -0.787, -0.661, -0.637]
lead_y2 = [0.873, 0.802, 0.786, 0.853, 0.655, 0.675, 0.607, 0.540, 0.570, 0.528,
           0.603, 0.528, -0.663, -0.718, -0.794, -0.841, -0.770]

grid_vals = [-0.6, 0, 0.6]
tick_vals = [-1, -0.6, 0, 0.6, 1]


def parse(*chunks):
    xs, ys = [], []
    for ch in chunks:
        for tok in ch.split():
            a, b = tok.split(",")
            xs.append(int(a) / 100)
            ys.append(int(b) / 100)
    return pd.DataFrame({"x": xs, "y": ys})


def parse_rows(rows_dict):
    xs, ys = [], []
    for yv, line in rows_dict.items():
        for tok in line.split():
            xs.append(int(tok) / 100)
            ys.append(yv / 100)
    return pd.DataFrame({"x": xs, "y": ys})


def ax(**kw):
    base = dict(domainColor="black", domainWidth=2, tickColor="black", tickWidth=2,
                labelColor="black", labelFont=FONT, grid=False, labelFlush=False, labelOverlap=False)
    base.update(kw)
    return alt.Axis(**base)


def text_at(txt, x, y, size, **kw):
    return alt.Chart(pd.DataFrame({"t": [txt]})).mark_text(
        font=FONT, fontSize=size, color="black", **kw).encode(
        x=alt.value(x), y=alt.value(y), text="t:N")


# ------------------------------ panel a -----------------------------------
XA = alt.X("x:Q", scale=alt.Scale(domain=[0, 222], nice=False, zero=False),
           axis=ax(values=cat_pos,
                   labelExpr=f"datum.value < 100 ? '{cat_labels[0]}' : '{cat_labels[1]}'",
                   labelAngle=-45, labelAlign="right", labelBaseline="top", labelFontSize=20.5,
                   tickSize=8, labelPadding=4), title=None)
YA = alt.Y("y:Q", scale=alt.Scale(domain=[-1, 1.378], nice=False, zero=False),
           axis=ax(values=[-1, -0.5, 0, 0.5, 1], labelExpr=MINUS_1F, domain=False,
                   tickSize=13, labelFontSize=17, labelPadding=5), title=None)

rows = []
for name, c, rr, hh in [("total", cat_pos[0], tot_r, tot_hw), ("nuc", cat_pos[1], nuc_r, nuc_hw)]:
    k = 0
    for r, h in zip(rr, hh):
        rows.append(dict(v=name, x=c + h, y=r, o=k)); k += 1
    for r, h in zip(rr[::-1], hh[::-1]):
        rows.append(dict(v=name, x=c - h, y=r, o=k)); k += 1
violin_df = pd.DataFrame(rows)

qrows = []
for c, qq, qh in [(cat_pos[0], tot_q, tot_q_hw), (cat_pos[1], nuc_q, nuc_q_hw)]:
    for i, (q, h) in enumerate(zip(qq, qh)):
        qrows.append(dict(x=c - h + 1.5, x2=c + h - 1.5, y=q, kind="median" if i == 1 else "quart"))
quart_df = pd.DataFrame(qrows)

yaxis_a = alt.Chart(pd.DataFrame({"x": [0], "y": [-1], "y2": [1]})).mark_rule(
    color="black", strokeWidth=2).encode(x=XA, y=YA, y2=alt.Y2("y2"))
violins = alt.Chart(violin_df).mark_line(color="black", strokeWidth=3.2, strokeJoin="round").encode(
    x=XA, y=YA, detail="v:N", order="o:Q")
medians = alt.Chart(quart_df).transform_filter("datum.kind == 'median'").mark_rule(
    color="black", strokeWidth=1.5).encode(x=XA, x2=alt.X2("x2"), y=YA)
quarts = alt.Chart(quart_df).transform_filter("datum.kind == 'quart'").mark_rule(
    color="#333333", strokeWidth=1.3, strokeDash=[1.5, 3]).encode(x=XA, x2=alt.X2("x2"), y=YA)
bracket = alt.Chart(pd.DataFrame({"x": [cat_pos[0], cat_pos[0], cat_pos[1], cat_pos[1]],
                                  "y": [1.122, 1.232, 1.232, 1.122], "o": [0, 1, 2, 3]})).mark_line(
    color="black", strokeWidth=2).encode(x=XA, y=YA, order="o:Q")
ns = alt.Chart(pd.DataFrame({"x": [110.5], "y": [1.335], "t": ["ns"]})).mark_text(
    font=FONT, fontSize=19, color="black").encode(x=XA, y=YA, text="t:N")

panel_a = alt.layer(
    yaxis_a, violins, medians, quarts, bracket, ns,
    text_at("a", -97, -2, 20, fontWeight="bold"),
    text_at("Pearson's", -67.5, 190.8, 18.5, angle=270, align="right", baseline="middle"),
    text_at("r", -67.5, 185.7, 18.5, angle=270, align="left", baseline="middle", fontStyle="italic"),
).properties(width=222, height=390)

# ------------------------------ panel b -----------------------------------
XB = alt.X("x:Q", scale=alt.Scale(domain=[-1, 1], nice=False, zero=False),
           axis=ax(values=tick_vals, labelExpr=MINUS_G, labelFontSize=18, tickSize=7, labelPadding=2),
           title=None)
YB = alt.Y("y:Q", scale=alt.Scale(domain=[-1, 1], nice=False, zero=False),
           axis=ax(values=tick_vals, labelExpr=MINUS_G, labelFontSize=18, tickSize=7, labelPadding=2),
           title=None)

gray_df = parse(gray_above_06, gray_05, gray_04, gray_03, gray_right, gray_02, gray_01, gray_00,
                gray_m00, gray_m01, gray_m02, gray_m03, gray_m04, gray_m05, gray_low, gray_ring,
                gray_core_top, gray_core_bottom)
fill_df = parse_rows(core_fill_rows)

all_pts = pd.DataFrame({"name": up_names + down_names + other_names,
                        "px": up_x + down_x + other_x, "py": up_y + down_y + other_y})
lead_df = pd.DataFrame({"name": lead_names, "x2": lead_x2, "y2": lead_y2}).merge(all_pts, on="name")
lead_df = lead_df.rename(columns={"px": "x", "py": "y"})
lab_df = pd.DataFrame({"name": lab_names, "x": lab_x, "y": lab_y, "al": lab_align})

vgrid = alt.Chart(pd.DataFrame({"x": grid_vals, "y": [-1] * 3, "y2": [1] * 3})).mark_rule(
    color="#d9d9d9", strokeWidth=1.6).encode(x=XB, y=YB, y2=alt.Y2("y2"))
hgrid = alt.Chart(pd.DataFrame({"y": grid_vals, "x": [-1] * 3, "x2": [1] * 3})).mark_rule(
    color="#d9d9d9", strokeWidth=1.6).encode(y=YB, x=XB, x2=alt.X2("x2"))
gray = alt.Chart(gray_df).mark_circle(size=36, color="#808080", opacity=0.6).encode(x=XB, y=YB)
gray_fill = alt.Chart(fill_df).mark_circle(size=36, color="#808080", opacity=0.5).encode(x=XB, y=YB)
leaders = alt.Chart(lead_df).mark_rule(color="black", strokeWidth=1.1).encode(
    x=XB, y=YB, x2=alt.X2("x2"), y2=alt.Y2("y2"))
up_pts = alt.Chart(pd.DataFrame({"x": up_x, "y": up_y})).mark_circle(
    size=32, color="#F29A6C", opacity=1).encode(x=XB, y=YB)
down_pts = alt.Chart(pd.DataFrame({"x": down_x, "y": down_y})).mark_circle(
    size=28, color="#5FA8D8", opacity=1).encode(x=XB, y=YB)
other_pts = alt.Chart(pd.DataFrame({"x": other_x, "y": other_y})).mark_circle(
    size=24, color="#B978C0", opacity=1).encode(x=XB, y=YB)


def labels(al):
    return alt.Chart(lab_df).transform_filter(f"datum.al == '{al}'").mark_text(
        font=FONT, fontSize=17.5, color="black", align=al, baseline="middle").encode(
        x=XB, y=YB, text="name:N")


panel_b = alt.layer(
    vgrid, hgrid, gray_fill, gray, leaders, up_pts, down_pts, other_pts,
    labels("left"), labels("right"), labels("center"),
    text_at("b", -70, -2, 20, fontWeight="bold"),
    text_at("Pearson's", 368.35, 545, 20, align="right", baseline="middle"),
    text_at("r", 373.9, 545, 20, align="left", baseline="middle", fontStyle="italic"),
    text_at("(protein - total RNA)", 386.1, 545, 20, align="left", baseline="middle"),
    text_at("Pearson's", -53, 302.9, 20, angle=270, align="right", baseline="middle"),
    text_at("r", -53, 297.3, 20, angle=270, align="left", baseline="middle", fontStyle="italic"),
    text_at("(protein - nuc RNA)", -53, 285.1, 20, angle=270, align="left", baseline="middle"),
).properties(width=844, height=504)

chart = alt.hconcat(panel_a, panel_b, spacing=30).properties(
    padding={"left": 5, "top": 6, "right": 0, "bottom": 0}
).configure_view(strokeWidth=0).configure(font=FONT)

chart.save("out.html", embed_options={"renderer": "svg", "actions": False})
